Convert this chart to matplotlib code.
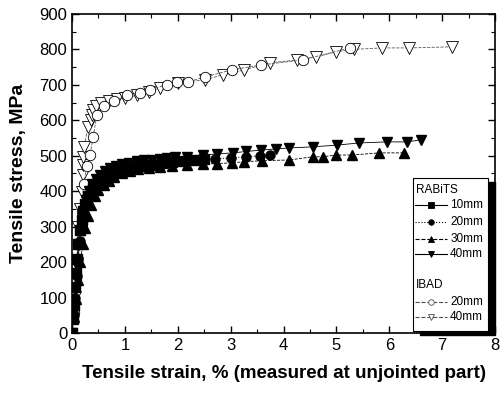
import matplotlib
matplotlib.use("Agg")
import matplotlib.pyplot as plt
from matplotlib.patches import Rectangle
from matplotlib.ticker import MultipleLocator

plt.rcParams['font.family'] = ['Liberation Sans', 'DejaVu Sans']

# RABiTS data (strain %, stress MPa)
r10_x = [0, 0.02, 0.04, 0.06, 0.08, 0.10, 0.12, 0.15, 0.18, 0.21, 0.25, 0.3, 0.35, 0.4, 0.45,
         0.5, 0.6, 0.7, 0.8, 0.9, 1.0, 1.1, 1.2, 1.35, 1.5, 1.7, 1.9, 2.1, 2.3, 2.5]
r10_y = [0, 40, 80, 130, 170, 210, 250, 290, 320, 345, 365, 385, 400, 412, 420,
         428, 438, 446, 452, 457, 461, 465, 468, 472, 475, 479, 482, 485, 488, 490]

r20_x = [0, 0.03, 0.06, 0.09, 0.12, 0.15, 0.19, 0.23, 0.28, 0.33, 0.4, 0.48, 0.56, 0.65, 0.75,
         0.85, 1.0, 1.15, 1.3, 1.5, 1.7, 1.9, 2.15, 2.4, 2.7, 3.0, 3.3, 3.55, 3.75]
r20_y = [0, 50, 100, 160, 210, 260, 300, 330, 360, 385, 405, 420, 432, 442, 450,
         456, 463, 468, 472, 476, 479, 482, 485, 488, 491, 494, 497, 500, 502]

r30_x = [0, 0.04, 0.08, 0.12, 0.16, 0.2, 0.25, 0.3, 0.36, 0.43, 0.5, 0.6, 0.7, 0.8, 0.95, 1.1,
         1.25, 1.45, 1.66, 1.9, 2.17, 2.47, 2.75, 3.02, 3.26, 3.6, 4.11, 4.55, 4.74, 5.0, 5.3,
         5.81, 6.28]
r30_y = [0, 45, 95, 150, 200, 250, 295, 330, 360, 385, 402, 418, 430, 440, 450, 457,
         462, 466, 468, 471, 474, 476, 478, 480, 483, 486, 488, 497, 497, 502, 502,
         508, 508]

r40_x = [0, 0.03, 0.06, 0.1, 0.14, 0.18, 0.22, 0.27, 0.32, 0.38, 0.45, 0.53, 0.62, 0.72, 0.83,
         0.95, 1.08, 1.22, 1.37, 1.52, 1.66, 1.8, 1.94, 2.17, 2.47, 2.75, 3.04, 3.3, 3.58, 3.85,
         4.11, 4.55, 5.02, 5.43, 5.96, 6.34, 6.6]
r40_y = [0, 60, 120, 190, 250, 300, 340, 375, 400, 420, 435, 447, 457, 465, 471,
         476, 480, 484, 487, 489, 491, 493, 495, 497, 502, 505, 508, 512, 516, 519,
         522, 525, 530, 536, 539, 539, 545]

# IBAD data
i20_x = [0.03, 0.08, 0.12, 0.18, 0.22, 0.28, 0.34, 0.4, 0.47, 0.6, 0.8, 1.04, 1.28, 1.47,
         1.79, 1.98, 2.19, 2.51, 3.02, 3.58, 4.36, 5.25]
i20_y = [60, 150, 250, 340, 420, 470, 502, 553, 615, 640, 655, 672, 677, 686,
         700, 708, 708, 722, 742, 756, 770, 804]

i40_x = [0.02, 0.06, 0.09, 0.11, 0.15, 0.19, 0.2, 0.21, 0.21, 0.23, 0.3, 0.36, 0.38, 0.4,
         0.45, 0.55, 0.7, 0.85, 1.0, 1.23, 1.45, 1.66, 2.0, 2.51, 2.85, 3.26, 3.74, 4.26,
         4.62, 5.0, 5.34, 5.87, 6.38, 7.19]
i40_y = [45, 102, 197, 299, 350, 398, 446, 474, 497, 525, 581, 601, 615, 630,
         640, 648, 655, 660, 664, 670, 680, 691, 705, 714, 728, 742, 762, 770,
         779, 793, 800, 804, 804, 807]

fig = plt.figure(figsize=(5, 3.96), dpi=100)
ax = fig.add_axes([0.144, 0.159, 0.846, 0.806])

ax.plot(i40_x, i40_y, ls='--', lw=0.6, color='0.35', marker='v', ms=8,
        mfc='white', mec='black', mew=0.6)
ax.plot(i20_x, i20_y, ls='--', lw=0.6, color='0.35', marker='o', ms=7.5,
        mfc='white', mec='black', mew=0.6)
ax.plot(r10_x, r10_y, ls='-', lw=0.7, color='black', marker='s', ms=6.5)
ax.plot(r20_x, r20_y, ls=':', lw=0.7, color='black', marker='o', ms=6.5)
ax.plot(r30_x, r30_y, ls='--', lw=0.6, color='black', marker='^', ms=7.5)
ax.plot(r40_x, r40_y, ls='-', lw=0.6, color='black', marker='v', ms=7.5)

ax.set_xlim(0, 8)
ax.set_ylim(0, 900)
ax.xaxis.set_major_locator(MultipleLocator(1))
ax.xaxis.set_minor_locator(MultipleLocator(0.5))
ax.yaxis.set_major_locator(MultipleLocator(100))
ax.yaxis.set_minor_locator(MultipleLocator(50))
ax.tick_params(which='both', direction='in', top=True, right=True, labelsize=12)
ax.tick_params(which='major', length=5, width=1)
ax.tick_params(which='minor', length=3, width=0.8)
for s in ax.spines.values():
    s.set_linewidth(1.2)

ax.set_xlabel('Tensile strain, % (measured at unjointed part)', fontsize=13.5,
              fontweight='bold', labelpad=9)
ax.set_ylabel('Tensile stress, MPa', fontsize=14, fontweight='bold', labelpad=9)

# hand-built legend with shadow, in axes fraction
lx0, lx1, ly0, ly1 = 0.806, 0.983, 0.006, 0.486
ax.add_patch(Rectangle((lx0 + 0.016, ly0 - 0.013), lx1 - lx0, ly1 - ly0,
                       transform=ax.transAxes, color='black', zorder=5, clip_on=False))
ax.add_patch(Rectangle((lx0, ly0), lx1 - lx0, ly1 - ly0, transform=ax.transAxes,
                       facecolor='white', edgecolor='black', lw=0.8, zorder=6, clip_on=False))

leg_rows = [
    ('RABiTS', None, None, None, None),
    ('10mm', '-', 's', 'black', 'black'),
    ('20mm', ':', 'o', 'black', 'black'),
    ('30mm', '--', '^', 'black', 'black'),
    ('40mm', '-', 'v', 'black', 'black'),
    ('IBAD', None, None, None, None),
    ('20mm', '--', 'o', 'white', '0.3'),
    ('40mm', '--', 'v', 'white', '0.3'),
]
leg_y = [0.448, 0.401, 0.348, 0.295, 0.248, 0.150, 0.097, 0.050]
for (lab, ls, mk, fc, ec), yy in zip(leg_rows, leg_y):
    if ls is None:
        ax.text(0.813, yy, lab, transform=ax.transAxes, fontsize=8.5,
                va='center', ha='left', zorder=7)
        continue
    ax.plot([0.811, 0.887], [yy, yy], transform=ax.transAxes, ls=ls, lw=0.8,
            color=ec, zorder=7, clip_on=False)
    ax.plot([0.849], [yy], transform=ax.transAxes, marker=mk, ms=4, mfc=fc,
            mec=ec, mew=0.6, zorder=8, clip_on=False)
    ax.text(0.894, yy, lab, transform=ax.transAxes, fontsize=8.5,
            va='center', ha='left', zorder=7)

fig.savefig('out.png', dpi=100)
